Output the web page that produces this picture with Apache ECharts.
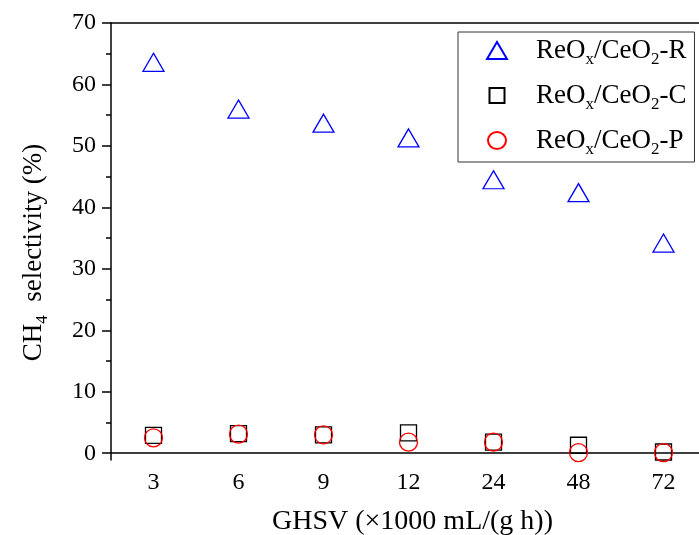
<!DOCTYPE html>
<html>
<head>
<meta charset="utf-8">
<script src="https://cdn.jsdelivr.net/npm/echarts@6/dist/echarts.min.js"></script>
<style>
  html, body { margin: 0; padding: 0; background: #fff; }
  #chart { width: 699px; height: 535px; }
</style>
</head>
<body>
<div id="chart"></div>
<script>
// GHSV categories (x1000 mL/(g h))
const ghsv = ['3', '6', '9', '12', '24', '48', '72']
// CH4 selectivity (%) for each catalyst
const selR = [63.6, 56.0, 53.7, 51.3, 44.5, 42.4, 34.2]
const selC = [2.9, 3.2, 3.0, 3.3, 1.8, 1.3, 0.2]
const selP = [2.5, 3.1, 3.0, 1.8, 1.8, 0.1, 0.1]
const seriesNames = ['ReOx/CeO2-R', 'ReOx/CeO2-C', 'ReOx/CeO2-P']
// y ticks (major labelled, minor unlabelled)
const yTicks = [0, 10, 20, 30, 40, 50, 60, 70]
const yMinorTicks = [5, 15, 25, 35, 45, 55, 65]

const FONT = 'Liberation Serif'

// subscripts for legend / axis name
const sub = {
    a: { fontFamily: FONT, fontSize: 27, lineHeight: 27, verticalAlign: 'top', color: '#000' },
    s: { fontFamily: FONT, fontSize: 17, lineHeight: 17, verticalAlign: 'top', color: '#000', padding: [14, 0, 0, 0] }
}
const fmtName = (name) => {
    const tail = name.split('-')[1]
    return '{a|ReO}{s|x}{a|/CeO}{s|2}{a|-' + tail + '}'
}

const axisLineStyle = { color: '#000', width: 1.5 }

const chart = echarts.init(document.getElementById('chart'))

const option = {
    animation: false,
    backgroundColor: '#fff',
    grid: {
        left: 111,
        top: 23,
        width: 595,
        height: 437,
        outerBoundsMode: 'none'
    },
    legend: {
        orient: 'vertical',
        left: 458,
        top: 32,
        padding: [5, 8, 4, 28],
        itemGap: 14,
        itemWidth: 20,
        itemHeight: 17,
        backgroundColor: '#fff',
        borderColor: '#333',
        borderWidth: 1,
        formatter: fmtName,
        textStyle: {
            fontFamily: FONT,
            fontSize: 27,
            color: '#000',
            padding: [0, 0, 0, 24],
            rich: sub
        },
        data: [
            { name: seriesNames[0], icon: 'path://M0,0M20,17M0,17L10,0L20,17Z' },
            { name: seriesNames[1], icon: 'path://M0,0M20,17M2.5,1H17.5V16H2.5Z' },
            { name: seriesNames[2], icon: 'path://M0,0M20,17M19,8.5A9,8.5,0,1,1,1,8.5A9,8.5,0,1,1,19,8.5Z' }
        ]
    },
    xAxis: [{
        type: 'category',
        data: ghsv,
        position: 'bottom',
        boundaryGap: true,
        axisLine: { lineStyle: axisLineStyle },
        axisTick: { alignWithLabel: true, length: 8, lineStyle: axisLineStyle },
        axisLabel: { fontFamily: FONT, fontSize: 24, color: '#000', margin: 11 },
        splitLine: { show: false },
        name: 'GHSV (\u00d71000 mL/(g h))',
        nameLocation: 'middle',
        nameGap: 48,
        nameTextStyle: { fontFamily: FONT, fontSize: 28, color: '#000', padding: [0, 0, 0, 8] }
    }, {
        // minor ticks between categories
        type: 'category',
        data: ghsv,
        position: 'bottom',
        boundaryGap: true,
        axisLine: { show: false },
        axisTick: { length: 4, lineStyle: axisLineStyle },
        axisLabel: { show: false },
        splitLine: { show: false }
    }, {
        type: 'category',
        data: ghsv,
        position: 'top',
        boundaryGap: true,
        axisLine: { lineStyle: axisLineStyle },
        axisTick: { inside: true, alignWithLabel: true, length: 5, lineStyle: axisLineStyle },
        axisLabel: { show: false },
        splitLine: { show: false }
    }, {
        type: 'category',
        data: ghsv,
        position: 'top',
        boundaryGap: true,
        axisLine: { show: false },
        axisTick: { inside: true, length: 3, lineStyle: axisLineStyle },
        axisLabel: { show: false },
        splitLine: { show: false }
    }],
    yAxis: [{
        type: 'value',
        min: -1.1,
        max: 70,
        axisLine: { show: true, lineStyle: axisLineStyle },
        axisTick: { show: true, length: 9, lineStyle: axisLineStyle, customValues: yTicks },
        splitLine: { show: false },
        axisLabel: {
            fontFamily: FONT, fontSize: 24, color: '#000', margin: 15,
            customValues: yTicks
        },
        name: '{a|CH}{s|4}{a|  selectivity (%)}',
        nameLocation: 'middle',
        nameGap: 64,
        nameTextStyle: { rich: sub, padding: [0, 22, 0, 0] }
    }, {
        // minor ticks only
        type: 'value',
        min: -1.1,
        max: 70,
        position: 'left',
        axisLine: { show: false },
        axisTick: { show: true, length: 5, lineStyle: axisLineStyle, customValues: yMinorTicks },
        axisLabel: { show: false },
        splitLine: { show: false }
    }],
    series: [{
        name: seriesNames[0],
        type: 'scatter',
        symbol: 'triangle',
        symbolSize: [21, 18],
        itemStyle: { color: 'rgba(0,0,0,0)', borderColor: '#0000ff', borderWidth: 1.3, opacity: 1 },
        data: selR
    }, {
        name: seriesNames[1],
        type: 'scatter',
        symbol: 'rect',
        symbolSize: 16,
        itemStyle: { color: 'rgba(0,0,0,0)', borderColor: '#000', borderWidth: 1.3, opacity: 1 },
        data: selC
    }, {
        name: seriesNames[2],
        type: 'scatter',
        symbol: 'circle',
        symbolSize: 18,
        itemStyle: { color: 'rgba(0,0,0,0)', borderColor: '#ff0000', borderWidth: 1.3, opacity: 1 },
        data: selP
    }]
}

chart.setOption(option)
</script>
</body>
</html>
